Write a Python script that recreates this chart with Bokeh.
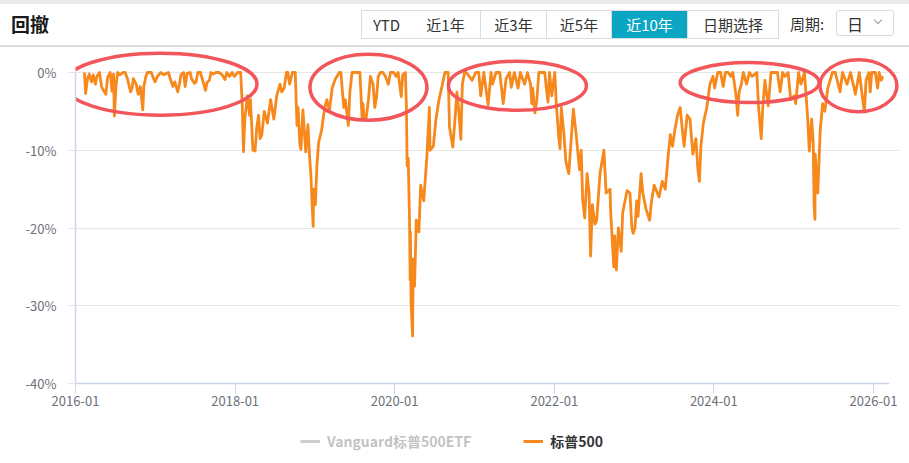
import pandas as pd
from bokeh.plotting import figure
from bokeh.models import (ColumnDataSource, Range1d, FixedTicker, PrintfTickFormatter,
                          DatetimeTickFormatter, Legend, LegendItem, Div)
from bokeh.layouts import column
from bokeh.embed import file_html
from bokeh.resources import INLINE

# ---------------- data ----------------
dates = [
    "2016-02-11", "2016-02-16", "2016-02-25", "2016-03-04", "2016-03-14", "2016-03-22", "2016-04-01",
    "2016-04-08", "2016-04-20", "2016-04-29", "2016-05-06", "2016-05-19", "2016-05-27", "2016-06-08",
    "2016-06-16", "2016-06-23", "2016-06-27", "2016-07-05", "2016-07-12", "2016-07-22", "2016-08-05",
    "2016-08-15", "2016-08-26", "2016-09-09", "2016-09-16", "2016-09-22", "2016-10-05", "2016-10-14",
    "2016-10-24", "2016-11-04", "2016-11-09", "2016-11-18", "2016-11-25", "2016-12-07", "2016-12-13",
    "2016-12-21", "2016-12-30", "2017-01-10", "2017-01-26", "2017-02-08", "2017-03-01", "2017-03-10",
    "2017-03-22", "2017-03-31", "2017-04-13", "2017-04-20", "2017-04-28", "2017-05-10", "2017-05-17",
    "2017-05-26", "2017-06-09", "2017-06-15", "2017-06-29", "2017-07-06", "2017-07-14", "2017-07-26",
    "2017-08-10", "2017-08-18", "2017-08-25", "2017-09-05", "2017-09-12", "2017-09-22", "2017-10-05",
    "2017-10-20", "2017-11-02", "2017-11-15", "2017-11-24", "2017-12-06", "2017-12-18", "2017-12-29",
    "2018-01-12", "2018-01-26", "2018-02-02", "2018-02-08", "2018-02-14", "2018-02-26", "2018-03-08",
    "2018-03-12", "2018-03-23", "2018-04-02", "2018-04-10", "2018-04-18", "2018-04-25", "2018-05-03",
    "2018-05-14", "2018-05-29", "2018-06-12", "2018-06-27", "2018-07-10", "2018-07-25", "2018-08-02",
    "2018-08-13", "2018-08-24", "2018-08-30", "2018-09-07", "2018-09-20", "2018-10-03", "2018-10-11",
    "2018-10-16", "2018-10-24", "2018-10-29", "2018-11-07", "2018-11-20", "2018-11-30", "2018-12-07",
    "2018-12-14", "2018-12-20", "2018-12-24", "2018-12-26", "2019-01-03", "2019-01-10", "2019-01-18",
    "2019-01-31", "2019-02-15", "2019-02-25", "2019-03-08", "2019-03-21", "2019-04-05", "2019-04-23",
    "2019-04-30", "2019-05-07", "2019-05-13", "2019-05-20", "2019-06-03", "2019-06-10", "2019-06-20",
    "2019-07-03", "2019-07-15", "2019-07-26", "2019-08-05", "2019-08-09", "2019-08-14", "2019-08-23",
    "2019-09-03", "2019-09-12", "2019-09-24", "2019-10-02", "2019-10-10", "2019-10-18", "2019-10-28",
    "2019-11-08", "2019-11-20", "2019-12-03", "2019-12-13", "2019-12-27", "2020-01-08", "2020-01-17",
    "2020-01-31", "2020-02-07", "2020-02-19", "2020-02-24", "2020-02-27", "2020-03-03", "2020-03-09",
    "2020-03-12", "2020-03-13", "2020-03-16", "2020-03-23", "2020-03-26", "2020-04-01", "2020-04-09",
    "2020-04-21", "2020-04-29", "2020-05-13", "2020-05-27", "2020-06-08", "2020-06-11", "2020-06-26",
    "2020-07-08", "2020-07-22", "2020-08-03", "2020-08-18", "2020-09-02", "2020-09-08", "2020-09-23",
    "2020-10-02", "2020-10-12", "2020-10-19", "2020-10-30", "2020-11-06", "2020-11-16", "2020-11-24",
    "2020-12-10", "2020-12-21", "2021-01-06", "2021-01-20", "2021-01-29", "2021-02-12", "2021-03-04",
    "2021-03-17", "2021-03-24", "2021-04-09", "2021-04-26", "2021-05-12", "2021-05-25", "2021-06-10",
    "2021-06-18", "2021-07-02", "2021-07-19", "2021-07-29", "2021-08-18", "2021-08-31", "2021-09-14",
    "2021-09-20", "2021-09-24", "2021-10-04", "2021-10-13", "2021-10-22", "2021-11-18", "2021-11-30",
    "2021-12-03", "2021-12-10", "2021-12-20", "2022-01-03", "2022-01-10", "2022-01-21", "2022-01-27",
    "2022-02-02", "2022-02-14", "2022-02-23", "2022-03-08", "2022-03-29", "2022-04-11", "2022-04-26",
    "2022-05-04", "2022-05-11", "2022-05-20", "2022-05-31", "2022-06-09", "2022-06-16", "2022-06-24",
    "2022-07-06", "2022-07-14", "2022-07-29", "2022-08-16", "2022-08-26", "2022-09-13", "2022-09-16",
    "2022-09-30", "2022-10-04", "2022-10-12", "2022-10-21", "2022-11-03", "2022-11-10", "2022-11-30",
    "2022-12-13", "2022-12-22", "2022-12-28", "2023-01-05", "2023-01-13", "2023-01-19", "2023-02-02",
    "2023-02-10", "2023-02-24", "2023-03-13", "2023-03-22", "2023-04-03", "2023-04-25", "2023-05-10",
    "2023-05-24", "2023-06-05", "2023-06-16", "2023-06-26", "2023-07-06", "2023-07-19", "2023-07-31",
    "2023-08-07", "2023-08-18", "2023-09-01", "2023-09-14", "2023-09-27", "2023-10-11", "2023-10-20",
    "2023-10-27", "2023-11-03", "2023-11-14", "2023-11-30", "2023-12-14", "2023-12-28", "2024-01-05",
    "2024-01-19", "2024-02-01", "2024-02-13", "2024-02-23", "2024-03-07", "2024-03-19", "2024-03-28",
    "2024-04-12", "2024-04-19", "2024-04-26", "2024-05-06", "2024-05-15", "2024-05-30", "2024-06-12",
    "2024-06-24", "2024-07-16", "2024-07-24", "2024-08-05", "2024-08-12", "2024-08-22", "2024-09-06",
    "2024-09-19", "2024-10-08", "2024-10-18", "2024-10-31", "2024-11-11", "2024-11-22", "2024-12-06",
    "2024-12-18", "2025-01-02", "2025-01-10", "2025-01-23", "2025-02-03", "2025-02-19", "2025-03-06",
    "2025-03-13", "2025-03-24", "2025-03-31", "2025-04-04", "2025-04-08", "2025-04-09", "2025-04-21",
    "2025-05-02", "2025-05-13", "2025-05-23", "2025-06-06", "2025-06-27", "2025-07-10", "2025-08-01",
    "2025-08-12", "2025-09-02", "2025-09-18", "2025-10-10", "2025-10-28", "2025-11-20", "2025-11-28",
    "2025-12-11", "2025-12-17", "2025-12-24", "2026-01-09", "2026-01-20", "2026-01-27", "2026-02-05",
    "2026-02-13",
]
drawdown_sp500 = [
    0.0, -2.7, -0.8, -0.2, -1.2, -0.3, -1.5,
    -0.5, 0.0, -1.8, -2.2, -2.8, -0.6, 0.0,
    -2.4, -0.2, -5.6, -1.5, 0.0, -0.3, 0.0,
    0.0, -0.8, -2.5, -2.0, -0.8, -1.5, -2.8,
    -1.8, -4.8, -1.8, -0.5, 0.0, 0.0, 0.0,
    -0.6, -1.2, -0.5, 0.0, -0.3, 0.0, -0.8,
    -1.8, -1.2, -2.5, -1.6, -0.3, 0.0, -1.8,
    -0.1, 0.0, -0.8, -1.4, -1.2, 0.0, 0.0,
    -1.5, -2.3, -1.3, -1.0, 0.0, -0.2, 0.0,
    0.0, -0.3, -0.9, 0.0, -0.5, 0.0, -0.5,
    0.0, 0.0, -3.9, -10.2, -6.0, -3.0, -5.5,
    -3.5, -10.0, -10.1, -7.0, -5.5, -8.5, -8.0,
    -5.0, -6.5, -3.5, -6.0, -3.0, -1.5, -2.5,
    -2.0, 0.0, 0.0, -1.5, 0.0, 0.0, -6.8,
    -4.5, -9.2, -9.9, -4.8, -10.2, -6.7, -10.5,
    -13.5, -17.5, -19.8, -15.0, -17.0, -12.0, -9.0,
    -7.5, -4.5, -3.5, -5.0, -2.0, -0.8, 0.0,
    0.0, -2.5, -4.5, -3.5, -6.8, -2.5, 0.0,
    0.0, 0.0, 0.0, -6.0, -4.0, -5.8, -6.0,
    -3.5, -0.5, -1.5, -4.5, -3.2, -0.5, 0.0,
    0.0, -0.5, -1.5, 0.0, 0.0, -0.5, 0.0,
    -3.1, -0.3, 0.0, -4.5, -12.0, -11.0, -19.0,
    -26.7, -20.5, -29.5, -33.9, -24.0, -27.5, -19.0,
    -20.5, -14.5, -16.5, -11.0, -4.5, -10.0, -9.5,
    -6.0, -3.5, -2.0, 0.0, 0.0, -7.0, -9.6,
    -6.5, -2.5, -4.5, -8.6, -1.5, 0.0, 0.0,
    -0.6, -1.0, 0.0, 0.0, -3.0, 0.0, -4.2,
    0.0, -1.5, 0.0, 0.0, -4.0, -0.8, 0.0,
    -1.9, 0.0, -2.0, 0.0, -1.5, 0.0, -1.5,
    -4.0, -2.0, -5.2, -3.5, 0.0, 0.0, -3.2,
    -3.8, 0.0, -3.0, 0.0, -4.0, -8.3, -9.8,
    -4.5, -8.0, -11.5, -13.0, -4.7, -8.0, -12.5,
    -10.0, -16.5, -18.7, -13.0, -15.5, -23.6, -17.0,
    -19.5, -19.0, -13.0, -10.0, -15.5, -15.0, -18.0,
    -25.0, -21.0, -25.4, -20.0, -23.0, -18.0, -15.2,
    -15.5, -20.0, -20.7, -20.0, -16.5, -18.5, -13.0,
    -15.5, -17.5, -19.0, -16.5, -14.5, -16.0, -14.0,
    -15.0, -11.0, -8.0, -9.5, -7.5, -5.5, -4.5,
    -6.5, -9.5, -5.5, -6.0, -10.5, -8.5, -12.5,
    -14.0, -9.5, -6.5, -4.5, -1.5, -0.5, -2.0,
    0.0, 0.0, -1.8, 0.0, 0.0, -0.5, 0.0,
    -3.0, -5.5, -2.5, -1.5, 0.0, -1.5, 0.0,
    -0.5, 0.0, -4.5, -8.5, -4.5, -1.0, -4.3,
    0.0, 0.0, 0.0, -2.5, 0.0, -0.5, 0.0,
    -3.5, -3.0, -4.0, 0.0, -1.5, 0.0, -6.0,
    -10.1, -6.0, -9.0, -17.0, -18.9, -10.5, -15.5,
    -7.5, -4.0, -5.0, -2.0, 0.0, 0.0, -2.5,
    0.0, -1.5, 0.0, -2.8, 0.0, -5.1, -1.0,
    0.0, -2.5, 0.0, 0.0, -2.0, 0.0, -1.0,
    -0.5,
]
series_names = ["Vanguard标普500ETF", "标普500"]
x_tick_dates = ["2016-01-01", "2018-01-01", "2020-01-01", "2022-01-01", "2024-01-01", "2026-01-01"]
y_ticks = [-40, -30, -20, -10, 0]
buttons = ["YTD", "近1年", "近3年", "近5年", "近10年", "日期选择"]
active_button = "近10年"
title_text = "回撤"
period_label = "周期:"
period_value = "日"

# highlight ellipses (annotation): centre date, centre value, screen width/height
hl_dates = ["2017-01-24", "2019-09-03", "2021-07-16", "2024-06-13", "2025-10-24"]
hl_vals = [-1.5, -1.9, -1.7, -1.3, -1.7]
hl_w = [193, 117, 138, 139, 77]
hl_h = [62, 66, 49, 40, 52]

FONT = "Noto Sans CJK SC"
ORANGE = "#F7891C"
ETF_GREY = "#555555"
W = 909

# ---------------- header (HTML) ----------------
edges = [361, 411, 481, 547, 612, 688, 779]
parts = []
parts.append('<div style="position:absolute;left:0;top:0;width:%dpx;height:4px;background:#ebebeb;"></div>' % W)
parts.append('<div style="position:absolute;left:11px;top:9px;height:30px;line-height:30px;'
             'font-size:19px;font-weight:bold;color:#1a1a1a;">%s</div>' % title_text)
for i, b in enumerate(buttons):
    l, r = edges[i], edges[i + 1]
    active = (b == active_button)
    bg = "#0AA6C4" if active else "white"
    fg = "white" if active else "#333333"
    bl = "1px solid #dcdcdc" if i == 0 else "none"
    parts.append(
        '<div style="position:absolute;left:%dpx;top:10px;width:%dpx;height:27px;line-height:27px;'
        'text-align:center;font-size:15px;color:%s;background:%s;border-top:1px solid #dcdcdc;'
        'border-bottom:1px solid #dcdcdc;border-right:1px solid #dcdcdc;border-left:%s;'
        'box-sizing:content-box;">%s</div>' % (l, r - l - 1, fg, bg, bl, b))
parts.append('<div style="position:absolute;left:790px;top:10px;height:28px;line-height:28px;'
             'font-size:15px;color:#333333;">%s</div>' % period_label)
parts.append('<div style="position:absolute;left:836px;top:10px;width:58px;height:26px;'
             'border:1px solid #dcdcdc;border-radius:3px;"></div>')
parts.append('<div style="position:absolute;left:847px;top:10px;height:28px;line-height:28px;'
             'font-size:16px;color:#333333;">%s</div>' % period_value)
parts.append('<div style="position:absolute;left:875px;top:17px;width:6px;height:6px;'
             'border-right:1.3px solid #999;border-bottom:1.3px solid #999;transform:rotate(45deg);"></div>')
parts.append('<div style="position:absolute;left:0;top:45px;width:%dpx;height:1.5px;background:#dddddd;"></div>' % W)
header_html = ('<div style="position:relative;width:%dpx;height:48px;font-family:\'Noto Sans CJK SC\',sans-serif;'
               'background:white;">%s</div>' % (W, "".join(parts)))
hdr = Div(text=header_html, width=W, height=48, margin=0)

# ---------------- main chart ----------------
d = pd.to_datetime(dates)
src = ColumnDataSource(dict(date=d, dd=drawdown_sp500))

x0 = pd.Timestamp("2016-01-01")
px_per_day = 798.0 / 3653.0
x_end = x0 + pd.Timedelta(days=824 / px_per_day)
axis_end = x0 + pd.Timedelta(days=814 / px_per_day)

p = figure(width=W, height=365, x_axis_type="datetime",
           x_range=Range1d(x0, x_end), y_range=Range1d(-40, 2.83),
           toolbar_location=None, output_backend="svg", title=None,
           min_border_left=75, min_border_right=10, min_border_top=2, min_border_bottom=30)
p.margin = 0
p.outline_line_color = None
p.background_fill_color = "white"
p.border_fill_color = "white"

r_sp = p.line(x="date", y="dd", source=src, line_color=ORANGE, line_width=2.8,
              line_join="round")

p.ellipse(x=pd.to_datetime(hl_dates), y=hl_vals, width=hl_w, height=hl_h,
          width_units="screen", height_units="screen", fill_color=None,
          line_color="#F2555A", line_width=3.5)

# axes
tick_ms = [pd.Timestamp(t).value / 1e6 for t in x_tick_dates]
p.xaxis.ticker = FixedTicker(ticks=tick_ms)
p.xaxis.formatter = DatetimeTickFormatter(years="%Y-%m", months="%Y-%m", days="%Y-%m",
                                          hours="%Y-%m", hourmin="%Y-%m")
p.xaxis.bounds = (x0, axis_end)
p.xaxis.axis_line_color = "#ccd6eb"
p.xaxis.axis_line_width = 1.5
p.xaxis.major_tick_line_color = "#ccd6eb"
p.xaxis.major_tick_out = 10
p.xaxis.major_tick_in = 0
p.xaxis.minor_tick_line_color = None
p.xaxis.major_label_standoff = 2
p.xaxis.major_label_text_font = FONT
p.xaxis.major_label_text_font_size = "13px"
p.xaxis.major_label_text_color = "#6E7079"

p.yaxis.ticker = FixedTicker(ticks=y_ticks)
p.yaxis.formatter = PrintfTickFormatter(format="%d%%")
p.yaxis.bounds = (-40, 0)
p.yaxis.axis_line_color = "#ccd6eb"
p.yaxis.axis_line_width = 1.5
p.yaxis.major_tick_line_color = "#e6e6e6"
p.yaxis.major_tick_out = 8
p.yaxis.major_tick_in = 0
p.yaxis.minor_tick_line_color = None
p.yaxis.major_label_standoff = 11
p.yaxis.major_label_text_font = FONT
p.yaxis.major_label_text_font_size = "13px"
p.yaxis.major_label_text_color = "#6E7079"

p.xgrid.visible = False
p.ygrid.ticker = FixedTicker(ticks=y_ticks)
p.ygrid.grid_line_color = "#e6e6e6"
p.ygrid.grid_line_width = 1.2

# ---------------- legend strip ----------------
# key renderers reuse the series source; their data lies outside this strip's range,
# so only the legend keys are drawn here
lg = figure(width=W, height=50, x_range=Range1d(0, 1), y_range=Range1d(0, 1),
            toolbar_location=None, output_backend="svg", title=None,
            x_axis_type=None, y_axis_type=None,
            min_border_left=75, min_border_right=10, min_border_top=0, min_border_bottom=0)
lg.margin = 0
lg.grid.visible = False
lg.outline_line_color = None
r_etf_key = lg.line(x="date", y="dd", source=src, line_color=ETF_GREY, line_width=3)
r_etf_key.visible = False  # series switched off: shown greyed out
r_sp_key = lg.line(x="date", y="dd", source=src, line_color=ORANGE, line_width=3)

legend = Legend(items=[LegendItem(label=series_names[0], renderers=[r_etf_key]),
                       LegendItem(label=series_names[1], renderers=[r_sp_key])],
                orientation="horizontal", location=(225, 12), click_policy="hide",
                padding=0, margin=0, spacing=52, glyph_width=20, label_standoff=7,
                border_line_color=None, background_fill_alpha=0,
                label_text_font=FONT, label_text_font_size="14px",
                label_text_font_style="bold", label_text_color="#333333",
                inactive_fill_color="white", inactive_fill_alpha=0.7)
lg.add_layout(legend, "center")

layout = column(hdr, p, lg, spacing=0)
layout.margin = 0
open("out.html", "w").write(file_html(layout, INLINE))
